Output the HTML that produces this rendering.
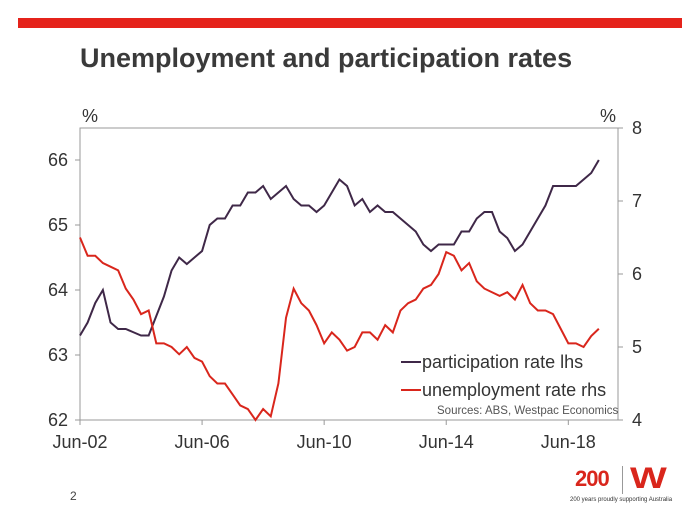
<!DOCTYPE html>
<html><head><meta charset="utf-8"><style>
body{margin:0;background:#fff;font-family:"Liberation Sans",Arial,sans-serif;}
#wrap{position:relative;width:700px;height:525px;overflow:hidden;}
</style></head><body>
<div id="wrap">
<div style="position:absolute;left:18px;top:18px;width:664px;height:10px;background:#e5231b"></div>
<div style="position:absolute;left:80px;top:43px;font-size:27px;font-weight:bold;color:#3a3a3a">Unemployment and participation rates</div>
<svg id="chart" width="700" height="525" style="position:absolute;left:0;top:0"></svg>
<div style="position:absolute;left:70px;top:489px;font-size:12px;color:#444">2</div>
<div style="position:absolute;left:575px;top:466px;font-size:22px;font-weight:bold;color:#d9261c;letter-spacing:-1px">200</div>
<div style="position:absolute;left:622px;top:466px;width:1px;height:28px;background:#999"></div>
<div style="position:absolute;left:630px;top:462px;font-size:30px;font-weight:bold;color:#d9261c;transform:scaleX(1.3);transform-origin:left">W</div>
<div style="position:absolute;left:570px;top:497px;font-size:6px;color:#333">200 years proudly supporting Australia</div>
</div>
<script>
const quarters = 69;
const xLabels = ["Jun-02","Jun-06","Jun-10","Jun-14","Jun-18"];
const xLabelIdx = [0,16,32,48,64];
const leftTicks = [62,63,64,65,66];
const rightTicks = [4,5,6,7,8];
const participation = [63.3,63.5,63.8,64.0,63.5,63.4,63.4,63.35,63.3,63.3,63.6,63.9,64.3,64.5,64.4,64.5,64.6,65.0,65.1,65.1,65.3,65.3,65.5,65.5,65.6,65.4,65.5,65.6,65.4,65.3,65.3,65.2,65.3,65.5,65.7,65.6,65.3,65.4,65.2,65.3,65.2,65.2,65.1,65.0,64.9,64.7,64.6,64.7,64.7,64.7,64.9,64.9,65.1,65.2,65.2,64.9,64.8,64.6,64.7,64.9,65.1,65.3,65.6,65.6,65.6,65.6,65.7,65.8,66.0];
const unemployment = [6.5,6.25,6.25,6.15,6.1,6.05,5.8,5.65,5.45,5.5,5.05,5.05,5.0,4.9,5.0,4.85,4.8,4.6,4.5,4.5,4.35,4.2,4.15,4.0,4.15,4.05,4.5,5.4,5.8,5.6,5.5,5.3,5.05,5.2,5.1,4.95,5.0,5.2,5.2,5.1,5.3,5.2,5.5,5.6,5.65,5.8,5.85,6.0,6.3,6.25,6.05,6.15,5.9,5.8,5.75,5.7,5.75,5.65,5.85,5.6,5.5,5.5,5.45,5.25,5.05,5.05,5.0,5.15,5.25];

const L=80,R=618,T=128,B=420;
const x=i=>L+i*7.63;
const yL=v=>B-(v-62)*65;
const yR=v=>B-(v-4)*73;
const svg=document.getElementById('chart');
const NS='http://www.w3.org/2000/svg';
function mk(tag,attrs,txt){const e=document.createElementNS(NS,tag);for(const k in attrs)e.setAttribute(k,attrs[k]);if(txt!==undefined)e.textContent=txt;svg.appendChild(e);return e;}
let e=mk('rect',{x:L,y:T,width:R-L,height:B-T,fill:'none',stroke:'#999','stroke-width':1});


leftTicks.forEach(v=>{
 let t=mk('line',{x1:L-5,x2:L,y1:yL(v),y2:yL(v),stroke:'#999'});
 
 
 let l=mk('text',{x:L-12,y:yL(v)+6,'text-anchor':'end','font-size':18,fill:'#333','font-family':'Liberation Sans'},v);
 
 
});
rightTicks.forEach(v=>{
 let t=mk('line',{x1:R,x2:R+5,y1:yR(v),y2:yR(v),stroke:'#999'});
 
 
 let l=mk('text',{x:R+14,y:yR(v)+6,'font-size':18,fill:'#333','font-family':'Liberation Sans'},v);
 
 
});
xLabels.forEach((s,k)=>{
 const xx=x(xLabelIdx[k]);
 let t=mk('line',{x1:xx,x2:xx,y1:B,y2:B+5,stroke:'#999'});
 
 
 let l=mk('text',{x:xx,y:B+28,'text-anchor':'middle','font-size':18,fill:'#333','font-family':'Liberation Sans'},s);
 
 
});
let u1=mk('text',{x:82,y:122,'font-size':18,fill:'#333','font-family':'Liberation Sans'},'%');


let u2=mk('text',{x:600,y:122,'font-size':18,fill:'#333','font-family':'Liberation Sans'},'%');


let p=mk('polyline',{points:participation.map((v,i)=>x(i)+','+yL(v)).join(' '),fill:'none',stroke:'#3f2848','stroke-width':2});


let u=mk('polyline',{points:unemployment.map((v,i)=>x(i)+','+yR(v)).join(' '),fill:'none',stroke:'#d9261c','stroke-width':2});


let g1=mk('line',{x1:401,x2:421,y1:362,y2:362,stroke:'#3f2848','stroke-width':2});


let t1=mk('text',{x:422,y:368,'font-size':18,fill:'#333','font-family':'Liberation Sans'},'participation rate lhs');


let g2=mk('line',{x1:401,x2:421,y1:390,y2:390,stroke:'#d9261c','stroke-width':2});


let t2=mk('text',{x:422,y:396,'font-size':18,fill:'#333','font-family':'Liberation Sans'},'unemployment rate rhs');


let s=mk('text',{x:437,y:414,'font-size':11.5,fill:'#555','font-family':'Liberation Sans'},'Sources: ABS, Westpac Economics');


</script>
</body></html>
